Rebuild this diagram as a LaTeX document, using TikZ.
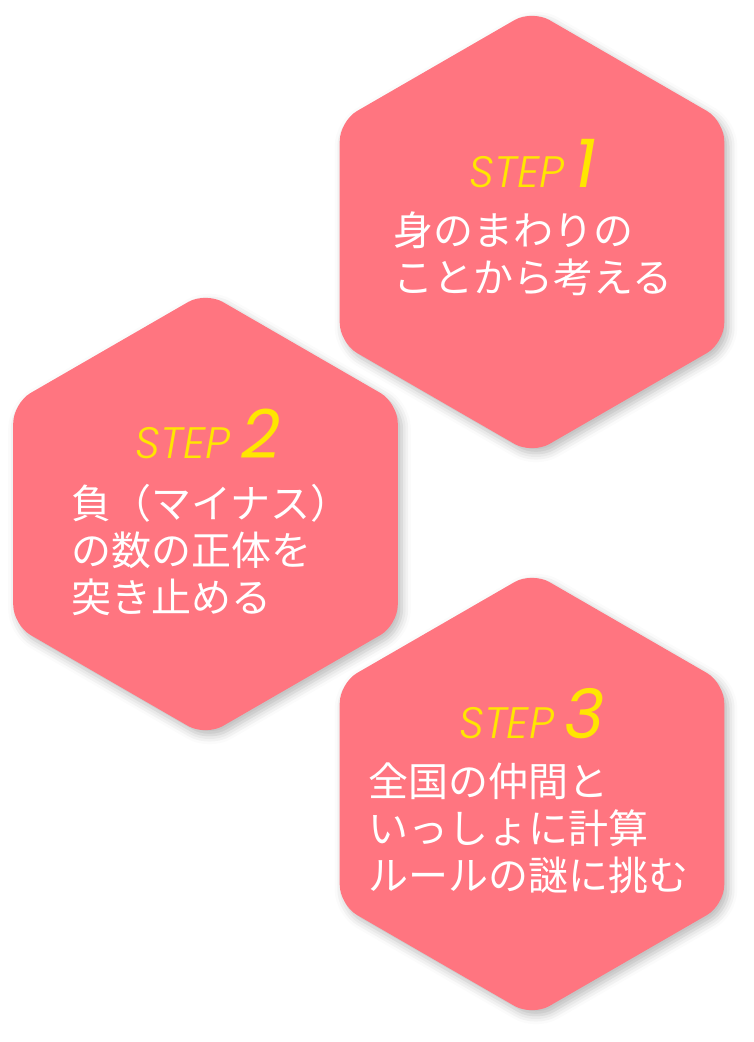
\documentclass[tikz,border=0pt]{standalone}
\usepackage{fontspec}
\usepackage{tikz}
\usetikzlibrary{shadows.blur}
\setmainfont{Noto Sans CJK JP}
\newfontfamily\stepfont{Poppins Light Italic}
\newfontfamily\numfont{Poppins Italic}
\definecolor{hexpink}{RGB}{255,117,128}
\definecolor{stepyellow}{RGB}{255,230,0}

\begin{document}
\begin{tikzpicture}[x=1pt,y=-1pt,
  hexbody/.style={fill=hexpink,rounded corners=20pt,
    blur shadow={shadow xshift=4pt,shadow yshift=-5pt,shadow blur radius=9pt,shadow opacity=28}},
  steplabel/.style={stepyellow,anchor=base,inner sep=0pt,font=\stepfont\fontsize{44}{44}\selectfont},
  jptext/.style={white,anchor=base west,align=left,inner sep=0pt,font=\fontsize{40}{47}\selectfont}]
  \useasboundingbox (0,0) rectangle (754,1042);
  % hexagon centres
  \coordinate (H1) at (532,232);
  \coordinate (H2) at (205.5,514);
  \coordinate (H3) at (532,794);
  % hexagons
  \foreach \h in {H1,H2,H3}
    \fill[hexbody] (\h) +(120:192.3) \foreach \a in {150,210,...,450} { -- +(\a:222) } -- cycle;
  % step 1 (base of the text node sits on its last line)
  \node[steplabel] (step1) at (533,187) {STEP\hspace{11pt}{\numfont\fontsize{68}{68}\selectfont 1}};
  \node[jptext] (txt1) at (393,292) {身のまわりの\\ことから考える};
  % step 2
  \node[steplabel] (step2) at (208,458) {STEP\hspace{11pt}{\numfont\fontsize{68}{68}\selectfont 2}};
  \node[jptext] (txt2) at (71,612) {負（マイナス）\\の数の正体を\\突き止める};
  % step 3
  \node[steplabel] (step3) at (532,738) {STEP\hspace{11pt}{\numfont\fontsize{68}{68}\selectfont 3}};
  \node[jptext] (txt3) at (368,890) {全国の仲間と\\いっしょに計算\\ルールの謎に挑む};
\end{tikzpicture}
\end{document}
